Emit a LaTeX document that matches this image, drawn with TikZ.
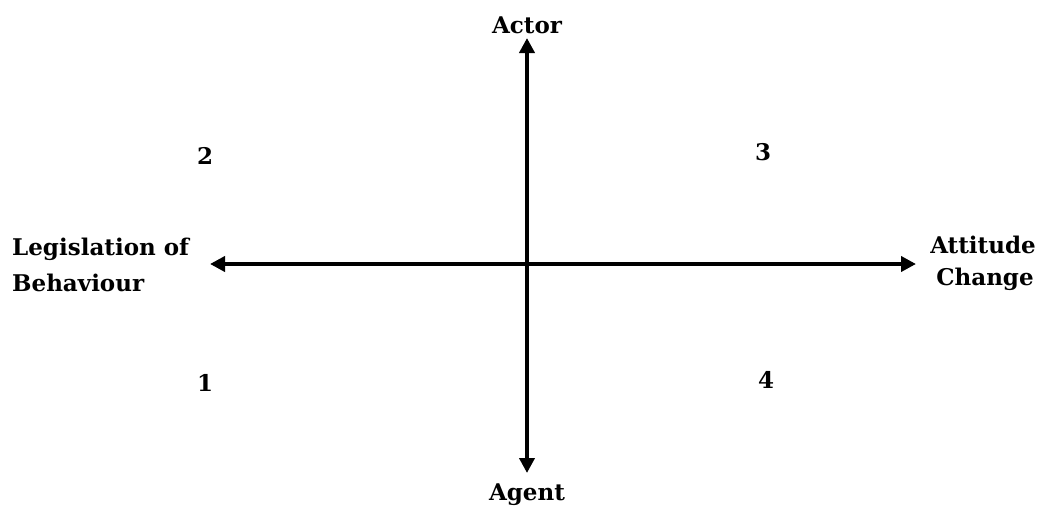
\documentclass[tikz,border=0pt]{standalone}
\usepackage{fontspec}
\setmainfont{DejaVu Serif}
\usetikzlibrary{arrows.meta}
\begin{document}
\begin{tikzpicture}[x=1pt,y=-1pt,
  axis/.style={line width=4.5pt,-{Triangle[length=15pt,width=15pt]}},
  lbl/.style={font=\bfseries\fontsize{23}{32}\selectfont,inner sep=0pt},
  num/.style={font=\bfseries\fontsize{23}{28}\selectfont,inner sep=0pt}]
\useasboundingbox (0,0) rectangle (1042,506);
\coordinate (c) at (527,264);
\coordinate (top) at (527,38);
\coordinate (bot) at (527,473);
\coordinate (lft) at (210,264);
\coordinate (rgt) at (916,264);
\draw[axis] (c) -- (top);
\draw[axis] (c) -- (bot);
\draw[axis] (c) -- (lft);
\draw[axis] (c) -- (rgt);
\node[lbl,anchor=base] (actor) at (527,33) {Actor};
\node[lbl,anchor=base] (agent) at (527,500) {Agent};
\node[lbl,anchor=base west,align=left] (leg) at (12,255) {Legislation of};
\node[lbl,anchor=base west] (beh) at (12,291) {Behaviour};
\node[lbl,anchor=base] (att) at (983,253) {Attitude};
\node[lbl,anchor=base] (chg) at (985,285) {Change};
\node[num,anchor=base] (n2) at (205,164) {2};
\node[num,anchor=base] (n3) at (763,160) {3};
\node[num,anchor=base] (n1) at (205,391) {1};
\node[num,anchor=base] (n4) at (766,388) {4};
\end{tikzpicture}
\end{document}
